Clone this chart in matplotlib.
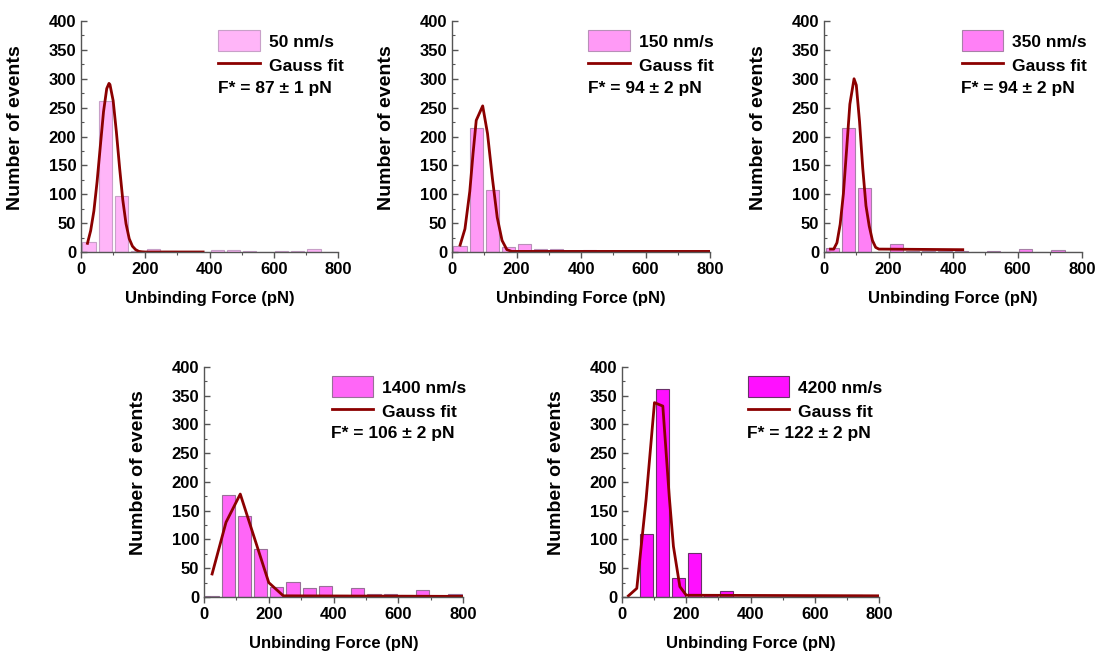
import matplotlib.pyplot as plt
import numpy as np
from matplotlib.ticker import MultipleLocator

plt.rcParams['font.family'] = ['Liberation Sans', 'DejaVu Sans']
plt.rcParams['font.weight'] = 'bold'

# histogram bin centers (pN)
bin_centers = [25, 75, 125, 175, 225, 275, 325, 375, 425, 475, 525, 575, 625, 675, 725, 775]

speeds = ['50 nm/s', '150 nm/s', '350 nm/s', '1400 nm/s', '4200 nm/s']
fstar = ['F* = 87 \u00b1 1 pN', 'F* = 94 \u00b1 2 pN', 'F* = 94 \u00b1 2 pN',
         'F* = 106 \u00b1 2 pN', 'F* = 122 \u00b1 2 pN']

counts_50 = [17, 261, 97, 1, 6, 1, 0, 0, 4, 3, 2, 0, 2, 2, 5, 0]
counts_150 = [11, 215, 107, 9, 14, 5, 5, 0, 3, 0, 0, 0, 0, 0, 0, 0]
counts_350 = [7, 214, 110, 0, 14, 2, 2, 2, 2, 0, 2, 0, 6, 0, 3, 0]
counts_1400 = [2, 177, 141, 83, 17, 26, 15, 19, 3, 16, 6, 6, 3, 12, 0, 5]
counts_4200 = [0, 109, 361, 33, 77, 4, 11, 0, 0, 0, 0, 0, 0, 0, 4, 0]

fit_x_50 = [20, 30, 40, 50, 60, 70, 80, 87, 90, 100, 110, 120, 130, 140, 150, 160, 170, 180, 190, 200, 380]
fit_y_50 = [15, 37, 71, 122, 183, 243, 283, 292, 290, 262, 208, 146, 90, 49, 23, 10, 4, 1, 0.3, 0, 0]
fit_x_150 = [25, 40, 55, 65, 75, 95, 110, 125, 140, 155, 170, 185, 800]
fit_y_150 = [12, 40, 105, 170, 228, 253, 205, 128, 60, 20, 4, 1, 1]
fit_x_350 = [20, 30, 40, 50, 60, 70, 80, 93, 100, 110, 120, 130, 140, 150, 160, 170, 180, 430]
fit_y_350 = [5, 5, 16, 48, 101, 178, 256, 300, 289, 226, 145, 80, 45, 20, 8, 5, 5, 4]
fit_x_1400 = [25, 68, 112, 200, 245, 800]
fit_y_1400 = [40, 130, 179, 25, 2, 1]
fit_x_4200 = [20, 46, 75, 101, 127, 147, 160, 180, 200, 800]
fit_y_4200 = [2, 15, 170, 338, 332, 175, 88, 18, 3, 2]

bar_colors = ['#ffb5f8', '#ff9af6', '#ff80f6', '#ff66f7', '#ff10ff']
edge_colors = ['#c8a0c8', '#b890b8', '#a880a8', '#987098', '#6a306a']
fit_color = '#8b0000'

fig = plt.figure(figsize=(10.98, 6.53), dpi=100)

# axes boxes in figure fractions: left, bottom, width, height
boxes = [
    [0.0738, 0.6141, 0.2341, 0.3537],
    [0.4117, 0.6141, 0.2350, 0.3537],
    [0.7505, 0.6141, 0.2350, 0.3537],
    [0.1858, 0.0858, 0.2359, 0.3522],
    [0.5665, 0.0858, 0.2341, 0.3522],
]
legend_left = [0.52, 0.515, 0.52, 0.48, 0.475]

all_counts = [counts_50, counts_150, counts_350, counts_1400, counts_4200]
all_fx = [fit_x_50, fit_x_150, fit_x_350, fit_x_1400, fit_x_4200]
all_fy = [fit_y_50, fit_y_150, fit_y_350, fit_y_1400, fit_y_4200]

for i in range(5):
    ax = fig.add_axes(boxes[i])
    bars = ax.bar(bin_centers, all_counts[i], width=41, color=bar_colors[i],
                  edgecolor=edge_colors[i], linewidth=0.8)
    line, = ax.plot(all_fx[i], all_fy[i], color=fit_color, lw=2)
    ax.set_xlim(0, 800)
    ax.set_ylim(0, 400)
    ax.xaxis.set_major_locator(MultipleLocator(200))
    ax.xaxis.set_minor_locator(MultipleLocator(100))
    ax.yaxis.set_major_locator(MultipleLocator(50))
    ax.yaxis.set_minor_locator(MultipleLocator(25))
    ax.tick_params(axis='both', which='major', labelsize=12, length=4, width=1, color='#555555')
    ax.tick_params(axis='both', which='minor', length=2.5, width=0.8, color='#555555')
    ax.tick_params(axis='y', which='both', direction='in')
    ax.tick_params(axis='x', which='both', direction='out')
    for s in ['top', 'right']:
        ax.spines[s].set_visible(False)
    for s in ['left', 'bottom']:
        ax.spines[s].set_color('#555555')
        ax.spines[s].set_linewidth(1)
    ax.set_xlabel('Unbinding Force (pN)', fontsize=12, fontweight='bold', labelpad=10)
    ax.set_ylabel('Number of events', fontsize=14, fontweight='bold')
    ax.yaxis.set_label_coords(-0.22, 0.54)
    ax.legend([bars, line], [speeds[i], 'Gauss fit'], loc='upper left',
              bbox_to_anchor=(legend_left[i], 0.975), frameon=False, fontsize=12.5,
              handlelength=2.4, handleheight=1.5, handletextpad=0.5,
              labelspacing=0.2, borderaxespad=0.0, borderpad=0.2)
    ax.text(legend_left[i] + 0.012, 0.71, fstar[i], transform=ax.transAxes,
            fontsize=12.5, fontweight='bold', va='center', ha='left')

plt.savefig('out.png', dpi=100)
